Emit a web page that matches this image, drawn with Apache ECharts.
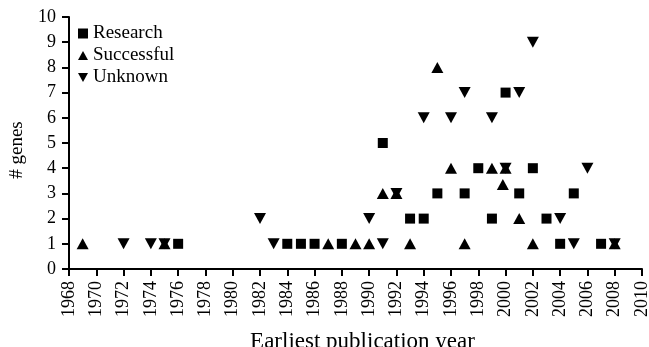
<!DOCTYPE html>
<html>
<head>
<meta charset="utf-8">
<script src="https://cdn.jsdelivr.net/npm/echarts@6/dist/echarts.min.js"></script>
<style>
html,body{margin:0;padding:0;background:#fff;}
#c{width:649px;height:347px;}
</style>
</head>
<body>
<div id="c"></div>
<script>
const seriesNames = ['Research', 'Successful', 'Unknown'];
const research = [[1976,1],[1984,1],[1985,1],[1986,1],[1988,1],[1991,5],[1993,2],[1994,2],[1995,3],[1997,3],[1998,4],[1999,2],[2000,7],[2001,3],[2002,4],[2003,2],[2004,1],[2005,3],[2007,1]];
const successful = [[1969,1],[1975,1],[1987,1],[1989,1],[1990,1],[1991,3],[1992,3],[1993,1],[1995,8],[1996,4],[1997,1],[1999,4],[2000,4],[1999.8,3.35],[2001,2],[2002,1],[2008,1]];
const unknown = [[1972,1],[1974,1],[1975,1],[1982,2],[1983,1],[1990,2],[1991,1],[1992,3],[1994,6],[1996,6],[1997,7],[1999,6],[2000,4],[2001,7],[2002,9],[2004,2],[2005,1],[2006,4],[2008,1]];
const xMin = 1968, xMax = 2010, xStep = 2;
const yMin = 0, yMax = 10, yStep = 1;

const font = 'Liberation Serif';
const chart = echarts.init(document.getElementById('c'));
const downTri = 'path://M0,0 L10,0 L5,9 Z';
const upTri = 'path://M5,0 L10,9 L0,9 Z';
chart.setOption({
  animation: false,
  grid: {left: 69, right: 7, top: 17, bottom: 78, containLabel: false, outerBoundsMode: 'none'},
  legend: {
    orient: 'vertical', left: 73, top: 19,
    itemWidth: 10, itemHeight: 10, itemGap: 3,
    textStyle: {fontFamily: font, fontSize: 19, color: '#000'},
    data: [
      {name: seriesNames[0], icon: 'rect'},
      {name: seriesNames[1], icon: upTri},
      {name: seriesNames[2], icon: downTri}
    ]
  },
  xAxis: {
    type: 'value', min: xMin, max: xMax, interval: xStep,
    name: 'Earliest publication year', nameLocation: 'middle', nameGap: 61,
    nameTextStyle: {fontFamily: font, fontSize: 23, color: '#000', padding: [0,0,0,14]},
    axisLine: {show: true, onZero: false, lineStyle: {color: '#000', width: 2}},
    axisTick: {show: true, length: 7, lineStyle: {color: '#000', width: 2}},
    axisLabel: {rotate: 90, margin: 12, fontFamily: font, fontSize: 18, color: '#000', formatter: v => String(v)},
    splitLine: {show: false}
  },
  yAxis: {
    type: 'value', min: yMin, max: yMax, interval: yStep,
    name: '# genes', nameLocation: 'middle', nameGap: 42,
    nameTextStyle: {fontFamily: font, fontSize: 19, color: '#000', padding: [0,14,0,0]},
    axisLine: {show: true, onZero: false, lineStyle: {color: '#000', width: 2}},
    axisTick: {show: true, length: 7, lineStyle: {color: '#000', width: 2}},
    axisLabel: {margin: 13, fontFamily: font, fontSize: 18, color: '#000'},
    splitLine: {show: false}
  },
  series: [
    {name: seriesNames[0], type: 'scatter', data: research, symbol: 'rect', symbolSize: 10, itemStyle: {color: '#000', opacity: 1}},
    {name: seriesNames[1], type: 'scatter', data: successful, symbol: upTri, symbolSize: [12, 11], itemStyle: {color: '#000', opacity: 1}},
    {name: seriesNames[2], type: 'scatter', data: unknown, symbol: downTri, symbolSize: [12, 11], itemStyle: {color: '#000', opacity: 1}}
  ]
});
</script>
</body>
</html>
